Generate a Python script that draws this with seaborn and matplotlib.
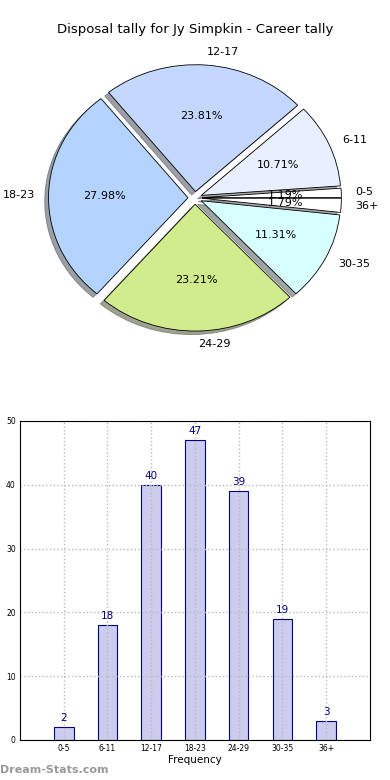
import matplotlib
matplotlib.use("Agg")
import matplotlib.pyplot as plt
import seaborn as sns

# -----------------------------
# Data
# -----------------------------
categories = ["0-5", "6-11", "12-17", "18-23", "24-29", "30-35", "36+"]
counts = [2, 18, 40, 47, 39, 19, 3]
pie_colors = ["#ffffff", "#e8f0ff", "#c4d8ff", "#b4d4ff", "#d0ec8c", "#d8ffff", "#ffffff"]

sns.set_style("white")
plt.rcParams["font.family"] = ["DejaVu Sans"]
plt.rcParams["text.color"] = "black"

fig = plt.figure(figsize=(3.9, 7.8), dpi=100)
fig.text(0.5, 1 - 30 / 780, "Disposal tally for Jy Simpkin - Career tally",
         ha="center", va="center", fontsize=9.5, color="black")

# -----------------------------
# Pie chart (slightly stretched, as in the original)
# -----------------------------
ax_pie = fig.add_axes([0.0154, 0.504, 0.969, 0.4846])
ax_pie.pie(counts, labels=categories, colors=pie_colors, explode=[0.05] * 7,
           autopct="%1.2f%%", startangle=0, shadow=True, labeldistance=1.1,
           pctdistance=0.6, textprops={"fontsize": 8, "color": "black"},
           wedgeprops={"edgecolor": "black", "linewidth": 0.6})
ax_pie.set_xlim(-1.355, 1.355)
ax_pie.set_ylim(-1.49, 1.49)
ax_pie.set_aspect("auto")
ax_pie.axis("off")

# -----------------------------
# Bar chart
# -----------------------------
ax = fig.add_axes([0.0513, 0.0513, 0.897, 0.409])
sns.barplot(x=categories, y=counts, color="#ccccee", edgecolor="navy",
            linewidth=0.8, width=0.45, saturation=1, ax=ax, zorder=2)
for i, v in enumerate(counts):
    ax.text(i, v + 0.6, str(v), ha="center", va="bottom", color="navy", fontsize=7.5)
ax.set_xlim(-1, 7)
ax.set_ylim(0, 50)
ax.set_yticks(range(0, 51, 10))
ax.grid(True, linestyle=":", color="#bbbbbb", linewidth=1, zorder=2.2)
ax.set_axisbelow(False)
for s in ax.spines.values():
    s.set_color("black")
    s.set_linewidth(0.8)
    s.set_zorder(3)
ax.tick_params(labelsize=5.5, length=2, direction="in", color="#aaaaaa", pad=3,
               labelcolor="black")
ax.set_xlabel("Frequency", fontsize=7.5, labelpad=1, color="black")
ax.set_ylabel("")

fig.text(0.0, 1 - 770 / 780, "Dream-Stats.com", ha="left", va="center",
         fontsize=8, color="#999999", fontweight="bold")

fig.savefig("out.png", dpi=100)
